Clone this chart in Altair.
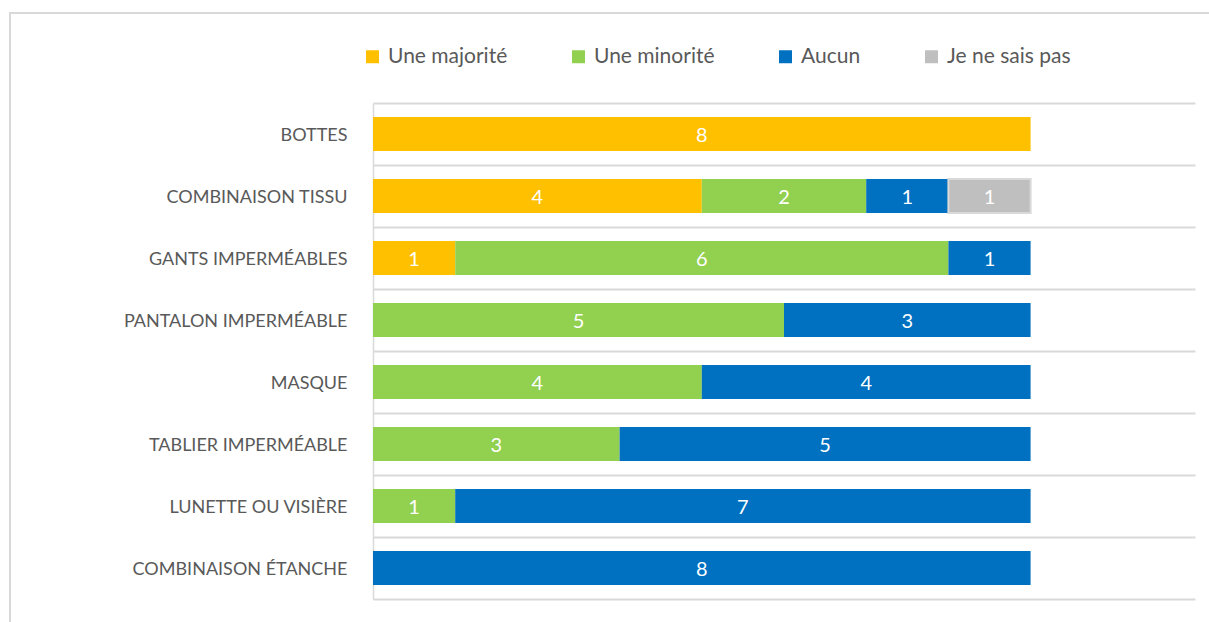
import altair as alt
import pandas as pd

categories = ["BOTTES", "COMBINAISON TISSU", "GANTS IMPERMÉABLES", "PANTALON IMPERMÉABLE",
              "MASQUE", "TABLIER IMPERMÉABLE", "LUNETTE OU VISIÈRE", "COMBINAISON ÉTANCHE"]
series = ["Une majorité", "Une minorité", "Aucun", "Je ne sais pas"]
colors = ["#FFC000", "#92D050", "#0070C0", "#BFBFBF"]
majorite = [8, 4, 1, 0, 0, 0, 0, 0]
minorite = [0, 2, 6, 5, 4, 3, 1, 0]
aucun = [0, 1, 1, 3, 4, 5, 7, 8]
nsp = [0, 1, 0, 0, 0, 0, 0, 0]

rows = []
for i, c in enumerate(categories):
    start = 0
    for k, vals in enumerate([majorite, minorite, aucun, nsp]):
        v = vals[i]
        if v > 0:
            rows.append({"cat": c, "serie": series[k], "order": k, "value": v,
                         "x0": start, "x1": start + v, "mid": start + v / 2})
        start += v
df = pd.DataFrame(rows)

FONT = "Lato"
GRID = "#d9d9d9"

yenc = alt.Y("cat:N", sort=categories, title=None,
             scale=alt.Scale(paddingInner=0, paddingOuter=0),
             axis=alt.Axis(labelFont=FONT, labelFontSize=18, labelColor="#595959",
                           labelPadding=26, ticks=False, domain=True, domainColor=GRID,
                           domainWidth=1.5, grid=True, gridColor=GRID, gridWidth=2,
                           bandPosition=0, labelLimit=400, labelOffset=2))
xscale = alt.Scale(domain=[0, 10], nice=False)

bars = alt.Chart(df).mark_bar(height={"band": 0.55}).encode(
    x=alt.X("x0:Q", scale=xscale, title=None,
            axis=alt.Axis(labels=False, ticks=False, grid=False, domain=True,
                          domainColor=GRID, domainWidth=2)),
    x2="x1:Q",
    y=yenc,
    color=alt.Color("serie:N", sort=series,
                    scale=alt.Scale(domain=series, range=colors),
                    legend=alt.Legend(title=None, orient="none", direction="horizontal",
                                      legendX=-11, legendY=-57, symbolType="square",
                                      symbolSize=169, symbolStrokeWidth=0,
                                      labelFont=FONT, labelFontSize=21,
                                      labelColor="#595959", labelOffset=5,
                                      columnPadding=60, labelLimit=300)),
    stroke=alt.condition(alt.datum.serie == "Je ne sais pas",
                         alt.value("#d9d9d9"), alt.value(None)),
    strokeWidth=alt.value(2),
)

labels = alt.Chart(df).mark_text(color="white", font=FONT, fontSize=20,
                                 baseline="middle", align="center", dy=2).encode(
    x=alt.X("mid:Q", scale=xscale),
    y=alt.Y("cat:N", sort=categories),
    text="value:Q",
)

frame = alt.Chart(df).mark_rect(fill=None, stroke=GRID, strokeWidth=2).encode(
    x=alt.value(-363), x2=alt.value(900), y=alt.value(-90), y2=alt.value(600))

chart = alt.layer(frame, bars, labels).properties(
    width=822, height=496,
    autosize=alt.AutoSizeParams(type="none"),
    padding={"left": 373, "top": 103, "right": 14, "bottom": 23},
).configure_view(stroke=None)

chart.save("out.html", embed_options={"renderer": "svg", "actions": False})
